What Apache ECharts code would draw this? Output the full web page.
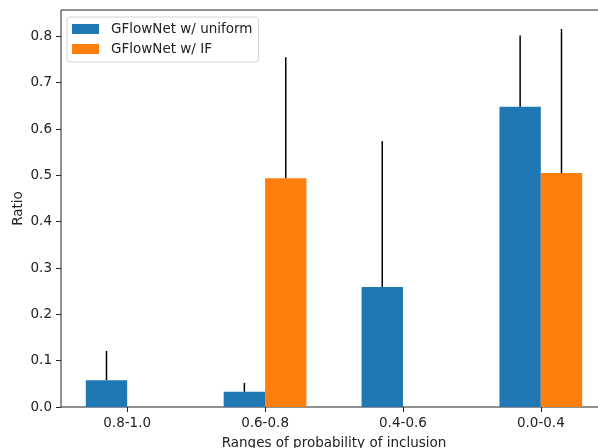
<!DOCTYPE html>
<html>
<head>
<meta charset="utf-8">
<script src="https://cdn.jsdelivr.net/npm/echarts@6/dist/echarts.min.js"></script>
<style>html,body{margin:0;padding:0;background:#fff}#c{width:598px;height:448px}</style>
</head>
<body>
<div id="c"></div>
<script>
var categories = ['0.8-1.0', '0.6-0.8', '0.4-0.6', '0.0-0.4'];
var uniformValues = [0.058, 0.033, 0.259, 0.648];
var uniformErr = [0.063, 0.019, 0.315, 0.154];
var ifValues = [0, 0.494, 0, 0.505];
var ifErr = [0, 0.261, 0, 0.311];
var yTicks = [0, 0.1, 0.2, 0.3, 0.4, 0.5, 0.6, 0.7, 0.8];
var seriesNames = ['GFlowNet w/ uniform', 'GFlowNet w/ IF'];
var colors = ['#1f77b4', '#ff7f0e'];

var BAR_W = 0.3;
var FONT = 'DejaVu Sans';
var FS = 13.5;

function barData(vals, errs, side) {
  return vals.map(function (v, i) { return [i, v, errs[i], side]; });
}

function renderBar(params, api) {
  var i = api.value(0), v = api.value(1), side = api.value(3);
  var x0 = side < 0 ? i - BAR_W : i;
  var p0 = api.coord([x0, v]);
  var p1 = api.coord([x0 + BAR_W, 0]);
  var children = [];
  if (v > 0) {
    children.push({
      type: 'rect',
      shape: { x: p0[0], y: p0[1], width: p1[0] - p0[0], height: p1[1] - p0[1] },
      style: { fill: api.visual('color') }
    });
  }
  var e = api.value(2);
  if (e > 0) {
    var xc = x0 + BAR_W / 2;
    var a = api.coord([xc, v]);
    var b = api.coord([xc, v + e]);
    children.push({
      type: 'line',
      shape: { x1: a[0], y1: a[1], x2: b[0], y2: b[1] },
      style: { stroke: '#000', lineWidth: 1.5 }
    });
  }
  return { type: 'group', children: children };
}

var chart = echarts.init(document.getElementById('c'), null, { renderer: 'canvas' });
chart.setOption({
  animation: false,
  backgroundColor: '#fff',
  textStyle: { fontFamily: FONT },
  grid: {
    left: 61, top: 10, width: 546, height: 397,
    outerBoundsMode: 'none', containLabel: false,
    show: true, borderColor: '#222', borderWidth: 1, backgroundColor: 'transparent'
  },
  legend: {
    orient: 'vertical',
    left: 67, top: 17,
    padding: [5, 6, 6, 5],
    itemWidth: 27, itemHeight: 10, itemGap: 6,
    borderColor: '#d5d5d5', borderWidth: 1, borderRadius: 3,
    backgroundColor: 'rgba(255,255,255,0.8)',
    textStyle: { fontFamily: FONT, fontSize: FS, color: '#222', lineHeight: 14, padding: [0, 0, 0, 7] },
    data: [
      { name: seriesNames[0], icon: 'rect' },
      { name: seriesNames[1], icon: 'rect' }
    ]
  },
  xAxis: {
    type: 'value',
    min: -0.48, max: 3.48,
    name: 'Ranges of probability of inclusion',
    nameLocation: 'middle', nameGap: 29, nameMoveOverlap: false,
    nameTextStyle: { fontFamily: FONT, fontSize: FS, color: '#222' },
    splitLine: { show: false },
    axisLine: { show: false, onZero: false },
    axisTick: { show: true, length: 5, lineStyle: { color: '#222' }, customValues: [0, 1, 2, 3] },
    axisLabel: {
      fontFamily: FONT, fontSize: FS, color: '#222', margin: 9,
      customValues: [0, 1, 2, 3],
      formatter: function (v) { return categories[Math.round(v)]; }
    }
  },
  yAxis: {
    type: 'value',
    min: 0, max: 0.857,
    name: 'Ratio',
    nameLocation: 'middle', nameGap: 36, nameRotate: 90, nameMoveOverlap: false,
    nameTextStyle: { fontFamily: FONT, fontSize: FS, color: '#222' },
    splitLine: { show: false },
    axisLine: { show: false, onZero: false },
    axisTick: { show: true, length: 5, lineStyle: { color: '#222' }, customValues: yTicks },
    axisLabel: {
      fontFamily: FONT, fontSize: FS, color: '#222', margin: 9,
      customValues: yTicks,
      formatter: function (v) { return v.toFixed(1); }
    }
  },
  series: [
    {
      name: seriesNames[0], type: 'custom', renderItem: renderBar,
      itemStyle: { color: colors[0] },
      encode: { x: 0, y: 1 },
      data: barData(uniformValues, uniformErr, -1)
    },
    {
      name: seriesNames[1], type: 'custom', renderItem: renderBar,
      itemStyle: { color: colors[1] },
      encode: { x: 0, y: 1 },
      data: barData(ifValues, ifErr, 1)
    }
  ]
});
</script>
</body>
</html>
